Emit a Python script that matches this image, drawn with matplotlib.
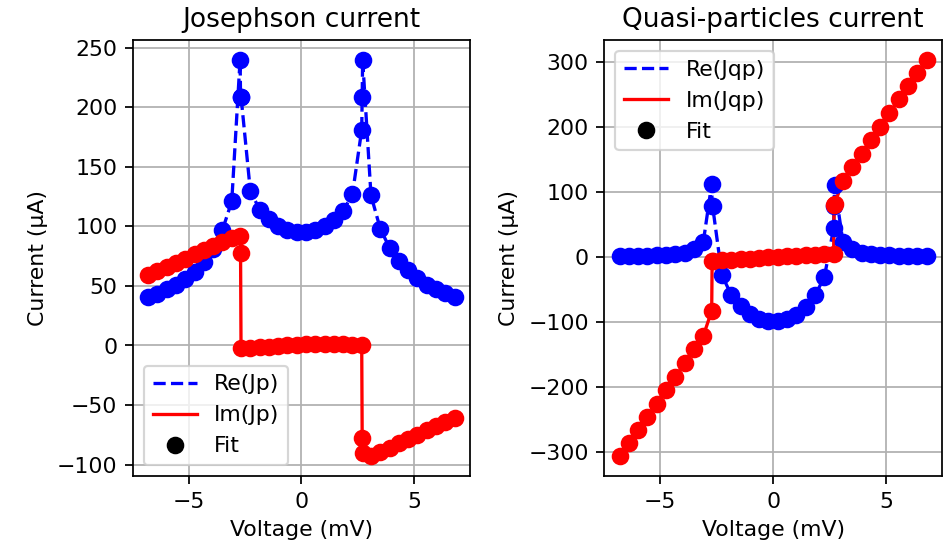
import numpy as np
import matplotlib
matplotlib.use("Agg")
import matplotlib.pyplot as plt

# 电压 (mV)，间隙附近多几个点
V = [-6.8, -6.388, -5.976, -5.564, -5.152, -4.739, -4.327, -3.915, -3.503, -3.091,
     -2.72, -2.70, -2.679, -2.267, -1.855, -1.442, -1.03, -0.618, -0.206,
     0.206, 0.618, 1.03, 1.442, 1.855, 2.267, 2.679, 2.70, 2.72,
     3.091, 3.503, 3.915, 4.327, 4.739, 5.152, 5.564, 5.976, 6.388, 6.8]

# Josephson current (uA)
re_jp = [41, 43.5, 47, 51, 56, 62, 70, 81, 97, 121,
         240, 209, 209, 130, 114, 106, 100, 97, 95,
         95, 97, 100, 105, 113, 127, 181, 209, 240,
         126, 98, 82, 71, 63, 57, 51, 47, 44, 41]
im_jp = [59, 62.5, 66, 69.5, 73, 76.5, 80, 83.5, 87, 90.5,
         92, 78, -2, -2, -1.5, -1, -0.5, 0, 0.5,
         1, 1.5, 1.5, 1, 1, 0.5, 0, -78, -90,
         -93, -89.5, -86, -82, -78.5, -75, -71, -67.5, -64, -60.5]

# Quasi-particles current (uA)
re_qp = [1, 1, 1.5, 2, 2.5, 3, 4, 6, 12, 23,
         112, 78, 78, -28, -58, -76, -88, -95, -98,
         -98, -95, -89, -77, -59, -31, 44, 78, 111,
         23, 12, 6, 4, 3, 2.5, 2, 1.5, 1, 1]
im_qp = [-306, -285, -265, -245, -225, -205, -184, -163, -142, -121,
         -83, -6, -6, -5, -4, -3.5, -2.5, -1.5, -0.5,
         0.5, 1.5, 2, 3, 3.5, 4, 5, 80, 82,
         116, 138, 158, 180, 200, 221, 242, 262, 282, 303]

fig, axes = plt.subplots(1, 2, figsize=(6.0, 3.452), dpi=158.2)


def draw(ax, re, im, name, title, loc):
    ax.plot(V, re, "b--", label="Re(%s)" % name)
    ax.plot(V, im, "r-", label="Im(%s)" % name)
    ax.plot(V, re, "bo", ms=7)
    ax.plot(V, im, "ro", ms=7)
    ax.plot([], [], "ko", ms=7, label="Fit")
    ax.set_title(title)
    ax.set_xlabel("Voltage (mV)")
    ax.set_ylabel("Current (µA)")
    ax.grid(True)
    ax.legend(loc=loc)


draw(axes[0], re_jp, im_jp, "Jp", "Josephson current", "lower left")
draw(axes[1], re_qp, im_qp, "Jqp", "Quasi-particles current", "upper left")

axes[0].set_position([0.140, 0.128, 0.355, 0.799])
axes[1].set_position([0.6365, 0.128, 0.356, 0.799])

fig.savefig("out.png", dpi=158.2)
